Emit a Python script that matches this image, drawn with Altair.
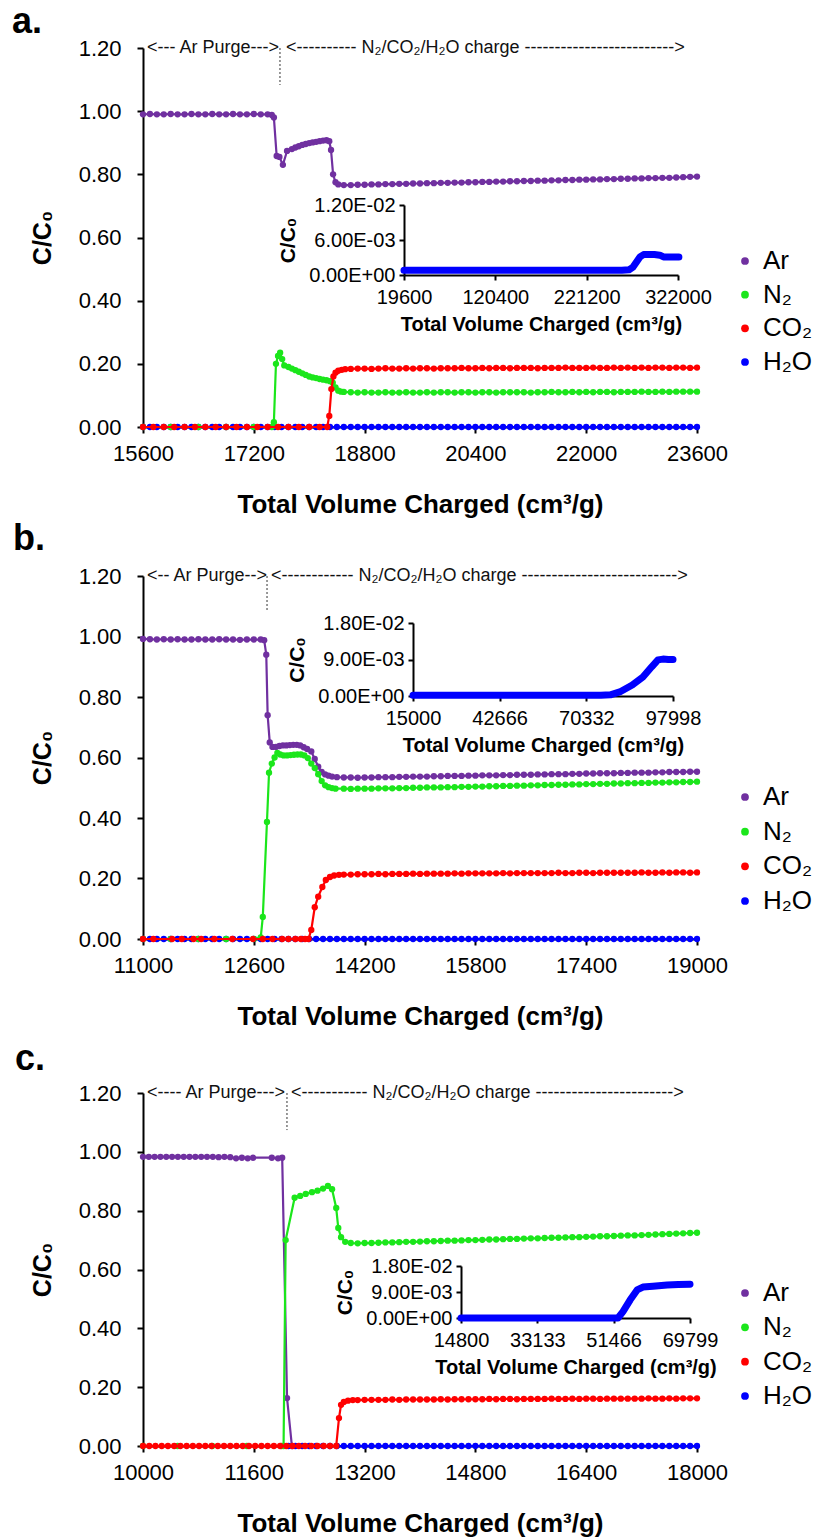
import altair as alt
import pandas as pd

SERIES = ["Ar", "N₂", "CO₂", "H₂O"]
COLORS = ["#7030A0", "#1BE61B", "#FF0000", "#0000FF"]
DRAW_ORDER = ["H₂O", "Ar", "N₂", "CO₂"]
FONT = "Liberation Sans"

# ---------------- Panel a ----------------
A_XTICKS = [15600, 17200, 18800, 20400, 22000, 23600]
A_H2O = [(15600,0),(15700,0),(15800,0),(15900,0),(16000,0),(16100,0),(16200,0),(16300,0),(16400,0),(16500,0),
         (16600,0),(16700,0),(16800,0),(16900,0),(17000,0),(17100,0),(17200,0),(17300,0),(17400,0),(17500,0),
         (17600,0),(17700,0),(17800,0),(17900,0),(18000,0),(18100,0),(18200,0),(18300,0),(18400,0),(18500,0),
         (18600,0),(18700,0),(18800,0),(18900,0),(19000,0),(19100,0),(19200,0),(19300,0),(19400,0),(19500,0),
         (19600,0),(19700,0),(19800,0),(19900,0),(20000,0),(20100,0),(20200,0),(20300,0),(20400,0),(20500,0),
         (20600,0),(20700,0),(20800,0),(20900,0),(21000,0),(21100,0),(21200,0),(21300,0),(21400,0),(21500,0),
         (21600,0),(21700,0),(21800,0),(21900,0),(22000,0),(22100,0),(22200,0),(22300,0),(22400,0),(22500,0),
         (22600,0),(22700,0),(22800,0),(22900,0),(23000,0),(23100,0),(23200,0),(23300,0),(23400,0),(23500,0),(23600,0)]
A_AR = [(15600,.990),(15700,.991),(15800,.990),(15900,.990),(16000,.991),(16100,.990),(16200,.990),(16300,.991),(16400,.990),(16500,.990),
        (16600,.991),(16700,.990),(16800,.990),(16900,.991),(17000,.990),(17100,.990),(17200,.991),(17300,.990),(17400,.990),(17460,.988),
        (17490,.980),(17530,.858),(17570,.855),(17620,.830),(17680,.874),(17750,.880),(17800,.885),(17850,.889),(17900,.893),(17950,.896),
        (18000,.899),(18050,.901),(18100,.903),(18150,.905),(18200,.907),(18250,.908),(18290,.905),(18315,.877),(18345,.800),(18380,.775),
        (18420,.768),(18500,.766),(18600,.766),(18700,.767),(18800,.767),(18900,.768),(19000,.768),(19100,.769),(19200,.769),(19300,.770),
        (19400,.770),(19500,.771),(19600,.771),(19700,.772),(19800,.772),(19900,.773),(20000,.773),(20100,.774),(20200,.774),(20300,.775),
        (20400,.775),(20500,.776),(20600,.776),(20700,.777),(20800,.777),(20900,.778),(21000,.778),(21100,.779),(21200,.779),(21300,.780),
        (21400,.780),(21500,.781),(21600,.781),(21700,.782),(21800,.782),(21900,.783),(22000,.783),(22100,.784),(22200,.784),(22300,.785),
        (22400,.785),(22500,.786),(22600,.786),(22700,.787),(22800,.787),(22900,.788),(23000,.788),(23100,.789),(23200,.789),(23300,.790),
        (23400,.791),(23500,.792),(23600,.793)]
A_N2 = [(15600,0),(16000,0),(16400,0),(16800,0),(17200,0),(17460,0),(17490,.015),(17520,.200),(17550,.225),(17580,.235),
        (17610,.215),(17640,.195),(17700,.190),(17750,.185),(17800,.180),(17850,.175),(17900,.170),(17950,.165),(18000,.160),(18050,.157),
        (18100,.155),(18150,.152),(18200,.150),(18250,.148),(18300,.145),(18340,.140),(18380,.125),(18420,.115),(18460,.112),(18500,.111),
        (18600,.110),(18700,.109),(18800,.110),(18900,.109),(19000,.109),(19100,.110),(19200,.109),(19300,.109),(19400,.110),(19500,.109),
        (19600,.109),(19700,.110),(19800,.109),(19900,.110),(20000,.110),(20100,.109),(20200,.110),(20300,.110),(20400,.109),(20500,.110),
        (20600,.110),(20700,.109),(20800,.110),(20900,.110),(21000,.110),(21100,.110),(21200,.109),(21300,.110),(21400,.110),(21500,.111),
        (21600,.110),(21700,.110),(21800,.111),(21900,.110),(22000,.111),(22100,.110),(22200,.111),(22300,.111),(22400,.110),(22500,.111),
        (22600,.111),(22700,.111),(22800,.112),(22900,.111),(23000,.111),(23100,.112),(23200,.111),(23300,.112),(23400,.112),(23500,.112),(23600,.112)]
A_CO2 = [(15600,0),(15750,0),(15900,0),(16050,0),(16200,0),(16350,0),(16500,0),(16650,0),(16800,0),(16950,0),
         (17100,0),(17250,0),(17400,0),(17550,0),(17700,0),(17850,0),(18000,0),(18150,0),(18260,0),(18290,.035),
         (18320,.120),(18350,.160),(18380,.172),(18420,.178),(18470,.181),(18520,.183),
         (18600,.184),(18700,.185),(18800,.185),(18900,.184),(19000,.185),(19100,.186),(19200,.185),(19300,.185),(19400,.186),(19500,.185),
         (19600,.186),(19700,.186),(19800,.185),(19900,.186),(20000,.186),(20100,.186),(20200,.187),(20300,.186),(20400,.186),(20500,.187),
         (20600,.186),(20700,.187),(20800,.187),(20900,.186),(21000,.187),(21100,.187),(21200,.187),(21300,.186),(21400,.187),(21500,.187),
         (21600,.187),(21700,.188),(21800,.187),(21900,.187),(22000,.187),(22100,.188),(22200,.187),(22300,.187),(22400,.188),(22500,.187),
         (22600,.188),(22700,.187),(22800,.188),(22900,.187),(23000,.188),(23100,.188),(23200,.187),(23300,.188),(23400,.188),(23500,.187),(23600,.188)]

# ---------------- Panel b ----------------
B_XTICKS = [11000, 12600, 14200, 15800, 17400, 19000]
B_H2O = [(11000,0),(11100,0),(11200,0),(11300,0),(11400,0),(11500,0),(11600,0),(11700,0),(11800,0),(11900,0),
         (12000,0),(12100,0),(12200,0),(12300,0),(12400,0),(12500,0),(12600,0),(12700,0),(12800,0),(12900,0),
         (13000,0),(13100,0),(13200,0),(13300,0),(13400,0),(13500,0),(13600,0),(13700,0),(13800,0),(13900,0),
         (14000,0),(14100,0),(14200,0),(14300,0),(14400,0),(14500,0),(14600,0),(14700,0),(14800,0),(14900,0),
         (15000,0),(15100,0),(15200,0),(15300,0),(15400,0),(15500,0),(15600,0),(15700,0),(15800,0),(15900,0),
         (16000,0),(16100,0),(16200,0),(16300,0),(16400,0),(16500,0),(16600,0),(16700,0),(16800,0),(16900,0),
         (17000,0),(17100,0),(17200,0),(17300,0),(17400,0),(17500,0),(17600,0),(17700,0),(17800,0),(17900,0),
         (18000,0),(18100,0),(18200,0),(18300,0),(18400,0),(18500,0),(18600,0),(18700,0),(18800,0),(18900,0),(19000,0)]
B_AR = [(11000,.992),(11100,.991),(11200,.990),(11300,.991),(11400,.990),(11500,.991),(11600,.990),(11700,.990),(11800,.991),(11900,.990),
        (12000,.990),(12100,.991),(12200,.990),(12300,.990),(12400,.989),(12500,.990),(12600,.990),(12700,.990),(12750,.988),(12780,.940),
        (12800,.740),(12830,.650),(12870,.635),(12920,.635),(12970,.638),(13020,.640),(13070,.640),(13120,.641),(13170,.642),(13220,.642),
        (13270,.640),(13320,.634),(13370,.628),(13430,.620),(13480,.595),(13530,.570),(13580,.552),(13630,.544),(13680,.540),(13730,.537),
        (13800,.535),(13900,.534),(14000,.534),(14100,.533),(14200,.534),(14300,.534),(14400,.535),(14500,.535),(14600,.535),(14700,.536),
        (14800,.536),(14900,.537),(15000,.537),(15100,.537),(15200,.538),(15300,.538),(15400,.539),(15500,.539),(15600,.539),(15700,.540),
        (15800,.540),(15900,.541),(16000,.541),(16100,.541),(16200,.542),(16300,.542),(16400,.543),(16500,.543),(16600,.543),(16700,.544),
        (16800,.544),(16900,.545),(17000,.545),(17100,.545),(17200,.546),(17300,.546),(17400,.547),(17500,.547),(17600,.548),(17700,.548),
        (17800,.548),(17900,.549),(18000,.549),(18100,.550),(18200,.550),(18300,.550),(18400,.551),(18500,.551),(18600,.552),(18700,.552),
        (18800,.552),(18900,.553),(19000,.553)]
B_N2 = [(11000,0),(11400,0),(11800,0),(12200,0),(12600,0),(12700,.005),(12730,.073),(12790,.387),(12820,.550),(12860,.580),
        (12900,.600),(12940,.615),(12980,.610),(13030,.607),(13080,.607),(13130,.608),(13180,.609),(13230,.610),(13280,.610),(13330,.607),
        (13380,.598),(13430,.580),(13480,.565),(13530,.545),(13580,.522),(13630,.508),(13680,.502),(13730,.499),(13780,.497),
        (13900,.497),(14000,.496),(14100,.497),(14200,.497),(14300,.497),(14400,.498),(14500,.498),(14600,.498),(14700,.499),(14800,.499),
        (14900,.500),(15000,.500),(15100,.501),(15200,.501),(15300,.501),(15400,.502),(15500,.502),(15600,.503),(15700,.503),(15800,.504),
        (15900,.504),(16000,.505),(16100,.505),(16200,.506),(16300,.506),(16400,.507),(16500,.507),(16600,.508),(16700,.508),(16800,.509),
        (16900,.509),(17000,.510),(17100,.510),(17200,.511),(17300,.511),(17400,.512),(17500,.512),(17600,.513),(17700,.513),(17800,.514),
        (17900,.514),(18000,.515),(18100,.515),(18200,.516),(18300,.516),(18400,.517),(18500,.517),(18600,.518),(18700,.518),(18800,.519),
        (18900,.519),(19000,.520)]
B_CO2 = [(11000,0),(11150,0),(11420,0),(11560,0),(11730,0),(11840,0),(12030,0),(12290,0),(12590,0),(12730,0),
         (12870,0),(13010,0),(13100,0),(13200,0),(13280,0),(13340,0),(13390,0),(13430,.030),(13480,.105),(13530,.140),
         (13590,.172),(13640,.195),(13700,.205),(13760,.210),(13830,.212),
         (13900,.213),(14000,.213),(14100,.214),(14200,.214),(14300,.214),(14400,.215),(14500,.214),(14600,.215),(14700,.215),(14800,.215),
         (14900,.216),(15000,.215),(15100,.216),(15200,.216),(15300,.216),(15400,.216),(15500,.217),(15600,.216),(15700,.217),(15800,.217),
         (15900,.217),(16000,.217),(16100,.217),(16200,.218),(16300,.217),(16400,.218),(16500,.218),(16600,.218),(16700,.218),(16800,.218),
         (16900,.218),(17000,.219),(17100,.218),(17200,.218),(17300,.219),(17400,.219),(17500,.218),(17600,.219),(17700,.219),(17800,.219),
         (17900,.219),(18000,.219),(18100,.219),(18200,.220),(18300,.219),(18400,.219),(18500,.220),(18600,.219),(18700,.220),(18800,.220),
         (18900,.219),(19000,.220)]

# ---------------- Panel c ----------------
C_XTICKS = [10000, 11600, 13200, 14800, 16400, 18000]
C_H2O = [(12100,0),(12200,0),(12300,0),(12400,0),(12500,0),(12600,0),(12700,0),(12800,0),(12900,0),
         (13000,0),(13100,0),(13200,0),(13300,0),(13400,0),(13500,0),(13600,0),(13700,0),(13800,0),(13900,0),
         (14000,0),(14100,0),(14200,0),(14300,0),(14400,0),(14500,0),(14600,0),(14700,0),(14800,0),(14900,0),
         (15000,0),(15100,0),(15200,0),(15300,0),(15400,0),(15500,0),(15600,0),(15700,0),(15800,0),(15900,0),
         (16000,0),(16100,0),(16200,0),(16300,0),(16400,0),(16500,0),(16600,0),(16700,0),(16800,0),(16900,0),
         (17000,0),(17100,0),(17200,0),(17300,0),(17400,0),(17500,0),(17600,0),(17700,0),(17800,0),(17900,0),(18000,0)]
C_AR = [(10000,.983),(10084,.983),(10168,.983),(10252,.983),(10336,.983),(10420,.983),(10504,.983),(10588,.983),(10672,.983),(10756,.983),
        (10840,.983),(10924,.983),(11008,.983),(11092,.982),(11176,.983),(11260,.982),(11344,.978),(11428,.980),(11512,.978),(11590,.980),
        (11860,.980),(11950,.978),(12010,.980),(12080,.163),(12150,0)]
C_N2 = [(10000,0),(10500,0),(11000,0),(11500,0),(12000,0),(12030,0),(12060,.700),(12190,.844),(12270,.850),(12350,.857),
        (12440,.863),(12520,.868),(12600,.875),(12670,.884),(12730,.873),(12790,.809),(12820,.741),(12860,.710),(12920,.694),(13000,.690),
        (13100,.689),(13200,.690),(13300,.690),(13400,.691),(13500,.692),(13600,.692),(13700,.693),(13800,.694),(13900,.694),(14000,.695),
        (14100,.696),(14200,.696),(14300,.697),(14400,.698),(14500,.698),(14600,.699),(14700,.700),(14800,.700),(14900,.701),(15000,.702),
        (15100,.702),(15200,.703),(15300,.704),(15400,.704),(15500,.705),(15600,.706),(15700,.706),(15800,.707),(15900,.708),(16000,.708),
        (16100,.709),(16200,.710),(16300,.710),(16400,.711),(16500,.712),(16600,.713),(16700,.713),(16800,.714),(16900,.715),(17000,.716),
        (17100,.716),(17200,.717),(17300,.718),(17400,.719),(17500,.720),(17600,.721),(17700,.722),(17800,.723),(17900,.724),(18000,.725)]
C_CO2 = [(10000,0),(10090,0),(10180,0),(10270,0),(10360,0),(10450,0),(10540,0),(10630,0),(10720,0),(10810,0),
         (10900,0),(10990,0),(11080,0),(11170,0),(11260,0),(11350,0),(11440,0),(11530,0),(11620,0),(11710,0),
         (11800,0),(11890,0),(11980,0),(12070,0),(12160,0),(12250,0),(12340,0),(12430,0),(12520,0),(12610,0),
         (12700,0),(12790,0),(12830,.095),(12860,.140),(12900,.150),(12960,.154),(13030,.156),
         (13100,.156),(13200,.157),(13300,.157),(13400,.157),(13500,.157),(13600,.158),(13700,.157),(13800,.158),(13900,.158),(14000,.158),
         (14100,.158),(14200,.158),(14300,.159),(14400,.158),(14500,.159),(14600,.159),(14700,.159),(14800,.159),(14900,.159),(15000,.160),
         (15100,.159),(15200,.160),(15300,.160),(15400,.159),(15500,.160),(15600,.160),(15700,.160),(15800,.160),(15900,.161),(16000,.160),
         (16100,.160),(16200,.161),(16300,.160),(16400,.161),(16500,.161),(16600,.160),(16700,.161),(16800,.161),(16900,.161),(17000,.161),
         (17100,.161),(17200,.161),(17300,.162),(17400,.161),(17500,.161),(17600,.162),(17700,.161),(17800,.162),(17900,.162),(18000,.162)]

# ---------------- Insets (H2O) ----------------
IA_XTICKS = [19600, 120400, 221200, 322000]
IA_YTICKS = [0, 0.006, 0.012]
IA_H2O = [(19600,.0008),(40000,.0008),(60000,.0008),(80000,.0008),(100000,.0008),(120000,.0008),(140000,.0008),
          (160000,.0008),(180000,.0008),(200000,.0008),(220000,.0008),(240000,.0008),(260000,.0008),(268000,.0009),
          (272000,.0013),(276000,.0022),(280000,.0031),(284000,.0035),(290000,.0035),(296000,.0035),(302000,.0034),
          (306000,.0031),(312000,.0031),(318000,.0031),(323000,.0031)]
IB_XTICKS = [15000, 42666, 70332, 97998]
IB_YTICKS = [0, 0.009, 0.018]
IB_H2O = [(15000,.0002),(25000,.0002),(35000,.0002),(45000,.0002),(55000,.0002),(65000,.0002),(75000,.0002),
          (78000,.0003),(81000,.0010),(85000,.0027),(88400,.0047),(91200,.0072),(93200,.0089),(94800,.0091),
          (96500,.0090),(98000,.0090)]
IC_XTICKS = [14800, 33133, 51466, 69799]
IC_YTICKS = [0, 0.009, 0.018]
IC_H2O = [(14800,0),(22000,0),(30000,0),(38000,0),(46000,0),(52500,0),(53700,.0022),(55400,.0062),
          (57100,.0097),(58500,.0107),(60900,.0110),(64300,.0114),(67000,.0116),(69800,.0117)]

XTITLE = "Total Volume Charged (cm³/g)"
YTITLE = "C/C₀"

W = 554      # plot width
H = 1398     # whole plot area height (all three panels)


def series_frame(d):
    rows = []
    for name, pts in d.items():
        for x, y in pts:
            rows.append({"x": x, "y": y, "series": name})
    return pd.DataFrame(rows)


def main_panel(series, xdom, xticks, ypix, letter, letter_xy, ann, rule):
    ybot, ytop = ypix
    xs = alt.Scale(domain=xdom, range=[0, W], nice=False, zero=False)
    ys = alt.Scale(domain=[0, 1.2], range=[ybot, ytop], nice=False, zero=False)
    xaxis = alt.Axis(values=xticks, format="d", orient="bottom", offset=ybot - H,
                     title=XTITLE, titleFontSize=26, titleFontWeight="bold", titlePadding=27,
                     labelFontSize=22, labelPadding=10, tickSize=6, labelFlush=False, labelOverlap=False)
    yaxis = alt.Axis(values=[0, 0.2, 0.4, 0.6, 0.8, 1.0, 1.2], format=".2f", orient="left",
                     title=YTITLE, titleFontSize=25, titleFontWeight="bold", titlePadding=23,
                     labelFontSize=22, labelPadding=16, tickSize=6, labelOverlap=False)
    cscale = alt.Scale(domain=SERIES, range=COLORS)
    df = series_frame(series)
    layers = []
    for s in DRAW_ORDER:
        base = alt.Chart(df).transform_filter(alt.datum.series == s)
        enc = dict(x=alt.X("x:Q", scale=xs, axis=xaxis), y=alt.Y("y:Q", scale=ys, axis=yaxis),
                   color=alt.Color("series:N", scale=cscale, legend=None))
        layers.append(base.mark_line(strokeWidth=2.2).encode(**enc))
        layers.append(base.mark_point(filled=True, size=40, opacity=1).encode(**enc))
    adf = pd.DataFrame(ann, columns=["x", "y", "t"])
    layers.append(alt.Chart(adf).mark_text(align="left", baseline="middle", fontSize=18, font=FONT,
                                           color="#111").encode(
        x=alt.X("x:Q", scale=xs, axis=xaxis), y=alt.Y("y:Q", scale=ys, axis=yaxis), text="t:N"))
    rdf = pd.DataFrame([rule], columns=["x", "y", "y2"])
    layers.append(alt.Chart(rdf).mark_rule(strokeDash=[2, 2], color="#333", strokeWidth=1).encode(
        x=alt.X("x:Q", scale=xs, axis=xaxis), y=alt.Y("y:Q", scale=ys, axis=yaxis), y2="y2:Q"))
    ldf = pd.DataFrame({"t": [letter]})
    layers.append(alt.Chart(ldf).mark_text(align="left", baseline="alphabetic", fontSize=36,
                                           fontWeight="bold", font=FONT, color="black").encode(
        text="t:N", x=alt.value(letter_xy[0]), y=alt.value(letter_xy[1])))
    return alt.layer(*layers)


def legend_block(ytop, ybot):
    """Legend rows for one panel: symbol + label, rows placed by a point scale."""
    df = pd.DataFrame({"series": SERIES})
    cscale = alt.Scale(domain=SERIES, range=COLORS)
    yenc = alt.Y("series:N", scale=alt.Scale(type="point", domain=SERIES, range=[ytop, ybot], padding=0),
                 axis=None)
    sym = alt.Chart(df).mark_point(filled=True, size=60, opacity=1).encode(
        x=alt.value(602), y=yenc, color=alt.Color("series:N", scale=cscale, legend=None))
    lab = alt.Chart(df).mark_text(align="left", baseline="middle", fontSize=26, font=FONT,
                                  color="black").encode(x=alt.value(620), y=yenc, text="series:N")
    return alt.layer(sym, lab)


def inset(pts, xdom, xticks, xpix, ypix, ydom, yticks):
    df = pd.DataFrame(pts, columns=["x", "y"])
    xs = alt.Scale(domain=xdom, range=list(xpix), nice=False, zero=False)
    ys = alt.Scale(domain=ydom, range=list(ypix), nice=False, zero=False)
    xaxis = alt.Axis(values=xticks, format="d", orient="bottom", offset=ypix[0] - H,
                     title=XTITLE, titleFontSize=20, titleFontWeight="bold", titlePadding=7,
                     labelFontSize=20, labelPadding=7, tickSize=5, labelFlush=False, labelOverlap=False)
    yaxis = alt.Axis(values=yticks, orient="left", offset=-xpix[0],
                     labelExpr="datum.value == 0 ? '0.00E+00' : replace(format(datum.value, '.2e'), 'e-', 'E-0')",
                     title=YTITLE, titleFontSize=21, titleFontWeight="bold", titlePadding=10,
                     labelFontSize=20, labelPadding=4, tickSize=5, labelOverlap=False)
    return alt.Chart(df).mark_line(color="#0000FF", strokeWidth=7, strokeCap="round",
                                   strokeJoin="round").encode(
        x=alt.X("x:Q", scale=xs, axis=xaxis), y=alt.Y("y:Q", scale=ys, axis=yaxis))


ANN_A = [(15658, 1.2, "<--- Ar Purge--->"),
         (17665, 1.2, "<---------- N₂/CO₂/H₂O charge ------------------------->")]
ANN_B = [(11058, 1.2, "<-- Ar Purge-->"),
         (12848, 1.2, "<------------ N₂/CO₂/H₂O charge -------------------------->")]
ANN_C = [(10058, 1.2, "<---- Ar Purge--->"),
         (12137, 1.2, "<----------- N₂/CO₂/H₂O charge ----------------------->")]

pa = main_panel({"Ar": A_AR, "N₂": A_N2, "CO₂": A_CO2, "H₂O": A_H2O}, [15600, 23600], A_XTICKS,
                (379, 0), "a.", (-131, -15), ANN_A, (17578, 1.2, 1.083))
pb = main_panel({"Ar": B_AR, "N₂": B_N2, "CO₂": B_CO2, "H₂O": B_H2O}, [11000, 19000], B_XTICKS,
                (891, 528), "b.", (-130, 502), ANN_B, (12791, 1.2, 1.081))
pc = main_panel({"Ar": C_AR, "N₂": C_N2, "CO₂": C_CO2, "H₂O": C_H2O}, [10000, 18000], C_XTICKS,
                (1398, 1045), "c.", (-128, 1022), ANN_C, (12079, 1.2, 1.074))

ia = inset(IA_H2O, [19600, 322000], IA_XTICKS, (261, 535), (227, 157), [0, 0.012], IA_YTICKS)
ib = inset(IB_H2O, [15000, 97998], IB_XTICKS, (270, 530), (648, 575), [0, 0.018], IB_YTICKS)
ic = inset(IC_H2O, [14800, 69799], IC_XTICKS, (318, 547), (1270, 1218), [0, 0.018], IC_YTICKS)

la = legend_block(213, 314)
lb = legend_block(749, 853)
lc = legend_block(1245, 1348)

chart = alt.layer(pa, ia, la, pb, ib, lb, pc, ic, lc).resolve_scale(
    x="independent", y="independent", color="independent"
).properties(
    width=W, height=H,
    autosize=alt.AutoSizeParams(type="none"),
    padding={"left": 143, "top": 48, "right": 123, "bottom": 92},
).configure(font=FONT).configure_view(stroke=None).configure_axis(
    domainColor="black", domainWidth=2, tickColor="black", tickWidth=2,
    labelColor="black", titleColor="black", labelFont=FONT, titleFont=FONT, grid=False
)

chart.save("out.html", embed_options={"renderer": "svg", "actions": False})
